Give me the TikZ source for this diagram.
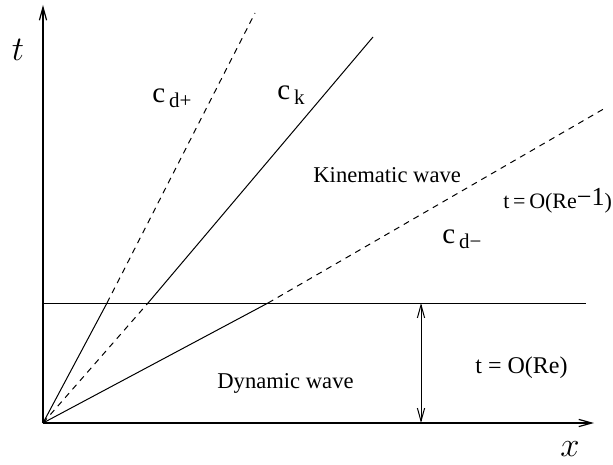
\documentclass[tikz,border=0pt]{standalone}
\usepackage{fontspec}
\setmainfont{Liberation Serif}
\usetikzlibrary{positioning,arrows.meta,calc}
\tikzset{
 axis/.style={line width=0.6pt, -{Straight Barb[length=6.5pt,width=3.6pt]}},
 both/.style={line width=0.5pt, {Straight Barb[length=6.5pt,width=3.6pt]}-{Straight Barb[length=6.5pt,width=3.6pt]}},
 ray/.style={line width=0.5pt},
 rayd/.style={ray, dash pattern=on 3pt off 2.6pt},
 lbl/.style={font=\fontsize{11.3}{13}\selectfont, inner sep=0pt, anchor=base west},
 mlbl/.style={font=\fontsize{17}{17}\selectfont, inner sep=0pt},
}
\newcommand{\wspeed}[1]{{\fontsize{14.5}{15}\selectfont c}\,\raisebox{-2.5pt}{\fontsize{10.5}{11}\selectfont #1}}

\begin{document}
\begin{tikzpicture}[x=0.5pt, y=-0.5pt]
\useasboundingbox (0,0) rectangle (613,464);
% axes
\coordinate (o) at (43,423);
\coordinate (ttip) at (43,5);
\coordinate (xtip) at (594,423);
\draw[axis] (o) -- (ttip);
\draw[axis] (o) -- (xtip);
\node[mlbl] (tlab) at (18,50) {$t$};
\node[mlbl] (xlab) at (570,449) {$x$};
% boundary layer
\coordinate (hl) at (43,303);
\coordinate (hr) at (586,303);
\draw[ray] (hl) -- (hr);
\coordinate (ba) at (421,303);
\coordinate (bb) at (421,423);
\draw[both] (ba) -- (bb);
% characteristics
\coordinate (dpm) at (107,303);
\coordinate (dpe) at (255,13);
\coordinate (km) at (148,303);
\coordinate (ke) at (373,37);
\coordinate (dmm) at (268,303);
\coordinate (dme) at (607,107);
\draw[ray] (o) -- (dpm);
\draw[rayd] (dpm) -- (dpe);
\draw[rayd] (o) -- (km);
\draw[ray] (km) -- (ke);
\draw[ray] (o) -- (dmm);
\draw[rayd] (dmm) -- (dme);
% labels
\node[lbl] (cdp) at (152,103) {\wspeed{d+}};
\node[lbl] (ck) at (277,100) {\wspeed{k}};
\node[lbl] (cdm) at (442,243) {\wspeed{d−}};
\node[lbl] (kin) at (313,183) {Kinematic wave};
\node[lbl, font=\fontsize{11}{13}\selectfont] (tkin) at (503,208)
 {t\,=\,O(Re\raisebox{1.5pt}{\fontsize{13}{13}\selectfont −1})};
\node[lbl] (dyn) at (217,388) {Dynamic wave};
\node[lbl, font=\fontsize{12}{14}\selectfont] (tdyn) at (475,373) {t = O(Re)};
\end{tikzpicture}
\end{document}
